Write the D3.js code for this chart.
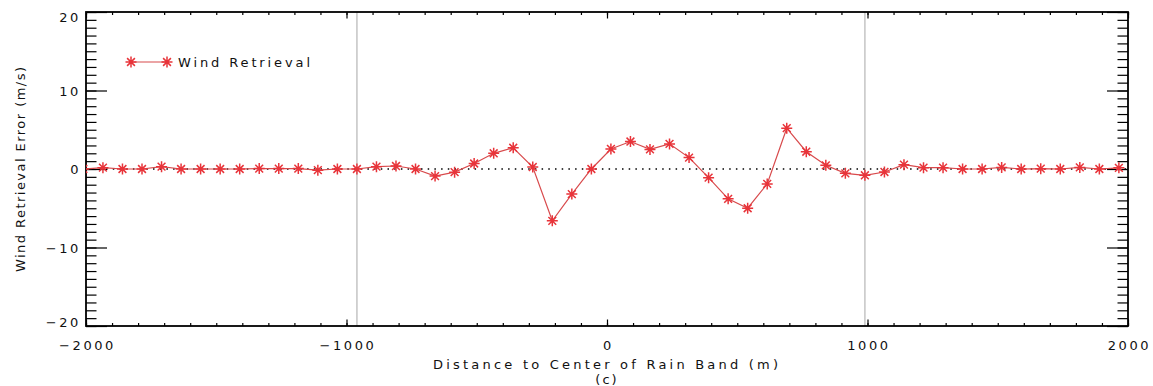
<!DOCTYPE html>
<html>
<head>
<meta charset="utf-8">
<script src="https://cdn.jsdelivr.net/npm/d3@7"></script>
<style>
  body { margin: 0; background: #fff; }
  svg { display: block; }
  text { font-family: "DejaVu Sans", sans-serif; fill: #111; }
</style>
</head>
<body>
<svg id="chart" width="1153" height="386"></svg>
<script>
// distance to rain band centre (m) and retrieval error (m/s)
const distance = [-2010, -1935, -1860, -1785, -1710, -1635, -1560, -1485, -1410, -1335,
  -1260, -1185, -1110, -1035, -960, -885, -810, -735, -660, -585,
  -510, -435, -360, -285, -210, -135, -60, 15, 90, 165,
  240, 315, 390, 465, 540, 615, 690, 765, 840, 915,
  990, 1065, 1140, 1215, 1290, 1365, 1440, 1515, 1590, 1665,
  1740, 1815, 1890, 1965]
const windError = [0, 0.17, 0, 0, 0.3, 0, 0, 0, 0, 0.05,
  0.05, 0.05, -0.15, 0, 0, 0.3, 0.38, 0, -0.9, -0.4,
  0.7, 2.0, 2.7, 0.25, -6.6, -3.2, 0, 2.55, 3.5, 2.5,
  3.2, 1.45, -1.1, -3.8, -5.0, -1.9, 5.2, 2.2, 0.47, -0.55,
  -0.8, -0.38, 0.55, 0.17, 0.17, 0, 0, 0.2, 0, 0.04,
  0, 0.2, 0, 0.15]
const xTicks = [-2000, -1000, 0, 1000, 2000]
const yTicks = [20, 10, 0, -10, -20]
const refLines = [-960, 990]

const margin = {left: 86, right: 25, top: 12, bottom: 60}
const width = 1153 - margin.left - margin.right
const height = 386 - margin.top - margin.bottom
const red = "#e8343a"

const svg = d3.select("#chart")
const g = svg.append("g")
  .attr("transform", `translate(${margin.left},${margin.top})`)

const x = d3.scaleLinear().domain([-2000, 2000]).range([0, width])
const y = d3.scaleLinear().domain([-20, 20]).range([height, 0])

svg.append("defs").append("clipPath").attr("id", "plot-clip")
  .append("rect").attr("width", width).attr("height", height)

// grey reference lines and the dotted zero line
g.selectAll(".ref")
  .data(refLines)
  .enter()
  .append("line")
  .attr("x1", d => x(d)).attr("x2", d => x(d))
  .attr("y1", 0).attr("y2", height)
  .attr("stroke", "#c8c8c8")
  .attr("stroke-width", 1.6)

g.append("line")
  .attr("x1", 0).attr("x2", width)
  .attr("y1", y(0)).attr("y2", y(0))
  .attr("stroke", "#000")
  .attr("stroke-width", 1.6)
  .attr("stroke-dasharray", "1.5,5.2")

// axes: ticks point inwards on all four sides
function ticksOnly(axis, values, size) {
  return axis.tickValues(values).tickSize(size).tickSizeOuter(0).tickFormat("")
}
const minorX = d3.range(-2000, 2001, 100)
const minorY = d3.range(-20, 21, 1)

const axes = g.append("g").attr("class", "axes")
axes.append("g").attr("transform", `translate(0,${height})`)
  .call(ticksOnly(d3.axisBottom(x), minorX, -3))
axes.append("g").attr("transform", `translate(0,${height})`)
  .call(ticksOnly(d3.axisBottom(x), xTicks, -6.5))
axes.append("g")
  .call(ticksOnly(d3.axisTop(x), minorX, -3))
axes.append("g")
  .call(ticksOnly(d3.axisTop(x), xTicks, -6.5))
axes.append("g")
  .call(ticksOnly(d3.axisLeft(y), minorY, -10.5))
axes.append("g")
  .call(ticksOnly(d3.axisLeft(y), yTicks, -21))
axes.append("g").attr("transform", `translate(${width},0)`)
  .call(ticksOnly(d3.axisRight(y), minorY, -10.5))
axes.append("g").attr("transform", `translate(${width},0)`)
  .call(ticksOnly(d3.axisRight(y), yTicks, -21))
axes.selectAll(".domain").remove()
axes.selectAll("line").attr("stroke", "#000").attr("stroke-width", 1.2)

g.append("rect")
  .attr("width", width).attr("height", height)
  .attr("fill", "none").attr("stroke", "#000").attr("stroke-width", 1.8)

// tick labels
g.selectAll(".xlab")
  .data(xTicks)
  .enter()
  .append("text")
  .attr("x", d => x(d) + 1.5)
  .attr("y", height + 24)
  .attr("text-anchor", "middle")
  .style("font-size", "13px")
  .style("letter-spacing", "2.6px")
  .text(d => d < 0 ? "\u2212" + Math.abs(d) : d)

// top/bottom labels are pushed inside the axis range
const yLabelShift = {"20": 10, "-20": 1}
g.selectAll(".ylab")
  .data(yTicks)
  .enter()
  .append("text")
  .attr("x", -5)
  .attr("y", d => y(d) + 5 + (yLabelShift[d] !== undefined ? yLabelShift[d] - 5 : 0))
  .attr("text-anchor", "end")
  .style("font-size", "13px")
  .style("letter-spacing", "2.6px")
  .text(d => d < 0 ? "\u2212" + Math.abs(d) : d)

// axis titles
svg.append("text")
  .attr("x", 433).attr("y", 369)
  .attr("textLength", 345).attr("lengthAdjust", "spacing")
  .style("font-size", "13px")
  .text("Distance to Center of Rain Band (m)")

svg.append("text")
  .attr("x", 607).attr("y", 384)
  .attr("text-anchor", "middle")
  .style("font-size", "13px")
  .style("letter-spacing", "2px")
  .text("(c)")

svg.append("text")
  .attr("transform", "translate(25,272) rotate(-90)")
  .attr("textLength", 205).attr("lengthAdjust", "spacing")
  .style("font-size", "13px")
  .text("Wind Retrieval Error (m/s)")

// asterisk symbol
const star = "M-5.5,0L5.5,0M0,-5.5L0,5.5M-3.9,-3.9L3.9,3.9M-3.9,3.9L3.9,-3.9"

const plot = g.append("g").attr("clip-path", "url(#plot-clip)")
const points = distance.map((d, i) => [d, windError[i]])

plot.append("path")
  .datum(points)
  .attr("fill", "none")
  .attr("stroke", "#d84a4c")
  .attr("stroke-width", 1.2)
  .attr("d", d3.line().x(d => x(d[0])).y(d => y(d[1])))

plot.selectAll(".pt")
  .data(points)
  .enter()
  .append("path")
  .attr("transform", d => `translate(${x(d[0])},${y(d[1])})`)
  .attr("d", star)
  .attr("stroke", red)
  .attr("stroke-width", 1.5)
  .attr("fill", "none")

// legend
const legend = svg.append("g")
legend.append("line")
  .attr("x1", 131).attr("x2", 167).attr("y1", 62).attr("y2", 62)
  .attr("stroke", "#d84a4c").attr("stroke-width", 1.2)
legend.selectAll(".lpt")
  .data([131, 167])
  .enter()
  .append("path")
  .attr("transform", d => `translate(${d},62)`)
  .attr("d", star)
  .attr("stroke", red).attr("stroke-width", 1.5).attr("fill", "none")
legend.append("text")
  .attr("x", 178).attr("y", 67)
  .attr("textLength", 132).attr("lengthAdjust", "spacing")
  .style("font-size", "13px")
  .text("Wind Retrieval")
</script>
</body>
</html>
